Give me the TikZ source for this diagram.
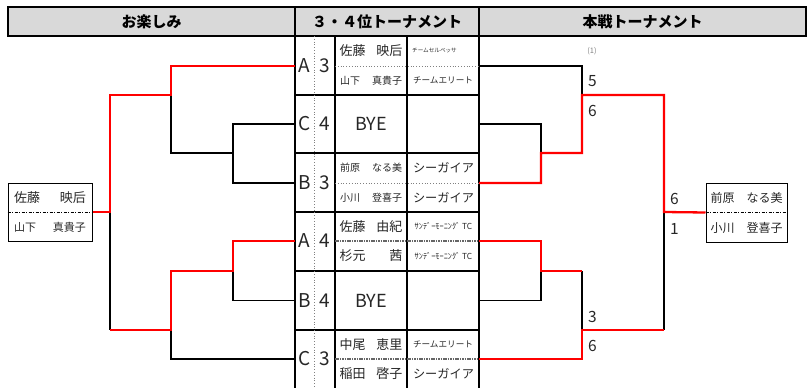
\documentclass[tikz,border=0pt]{standalone}
\usepackage{fontspec}
\setmainfont{Noto Sans CJK JP}
\definecolor{hgray}{HTML}{D9D9D9}
\definecolor{txt}{HTML}{262626}
\newcommand{\fs}[1]{\fontsize{#1}{#1}\selectfont}
\newcommand{\jname}[3]{\hbox to #1pt{#2\hfill #3}}
\begin{document}
\begin{tikzpicture}[x=1pt,y=-1pt,
  hdr/.style={draw, line width=1.3pt, fill=hgray, inner sep=0pt, font=\fs{15}\bfseries},
  tab/.style={draw, line width=1.2pt},
  fine/.style={draw=gray, line width=0.8pt, dotted},
  thickdash/.style={draw=black!60, line width=2pt, dash pattern=on 1.6pt off 0.8pt},
  lose/.style={draw=black, line width=1.1pt},
  win/.style={draw=red, line width=2.3pt},
  lbl/.style={inner sep=0pt, text=txt},
  big/.style={lbl, font=\fs{19}},
  bye/.style={lbl, font=\fs{18}},
  score/.style={lbl, font=\fs{15.5}},
  cellbox/.style={draw, line width=1pt, inner sep=0pt}
]
\useasboundingbox (0,0) rectangle (807,388);

% headers
\node[hdr, minimum width=287pt, minimum height=29pt] (h1) at (151.5,21.5) {お楽しみ};
\node[hdr, minimum width=184pt, minimum height=29pt] (h2) at (387,21.5) {３・４位トーナメント};
\node[hdr, minimum width=327pt, minimum height=29pt] (h3) at (642.5,21.5) {本戦トーナメント};

% middle table
\foreach \x in {295,335,407,479} \draw[tab] (\x,36) -- (\x,388);
\foreach \y in {95,153,212,271,330} \draw[tab] (295,\y) -- (479,\y);
\draw[fine] (314,36) -- (314,388);
\foreach \y in {66,183} \draw[fine] (335,\y) -- (479,\y);
\foreach \y in {241,359} \draw[thickdash] (335,\y) -- (479,\y);

% group letters and numbers
\node[big] (gA1) at (304.5,66) {A};   \node[big] (nA1) at (324.5,66) {3};
\node[big] (gC1) at (304.5,124) {C};  \node[big] (nC1) at (324.5,124) {4};
\node[big] (gB1) at (304.5,183) {B};  \node[big] (nB1) at (324.5,183) {3};
\node[big] (gA2) at (304.5,241) {A};  \node[big] (nA2) at (324.5,241) {4};
\node[big] (gB2) at (304.5,300.5) {B};\node[big] (nB2) at (324.5,300.5) {4};
\node[big] (gC2) at (304.5,359) {C};  \node[big] (nC2) at (324.5,359) {3};
\node[bye] (bye1) at (371,124) {BYE};
\node[bye] (bye2) at (371,300.5) {BYE};

% names
\node[lbl, font=\fs{13}] (p1) at (371,51)    {\jname{63}{佐藤}{映后}};
\node[lbl, font=\fs{10}] (p2) at (371,80.5)  {\jname{62}{山下}{真貴子}};
\node[lbl, font=\fs{10}] (p3) at (371,168)   {\jname{62}{前原}{なる美}};
\node[lbl, font=\fs{10}] (p4) at (371,197.5) {\jname{62}{小川}{登喜子}};
\node[lbl, font=\fs{13}] (p5) at (371,226.5) {\jname{63}{佐藤}{由紀}};
\node[lbl, font=\fs{13}] (p6) at (371,256)   {\jname{63}{杉元}{茜}};
\node[lbl, font=\fs{13}] (p7) at (371,344.5) {\jname{63}{中尾}{恵里}};
\node[lbl, font=\fs{13}] (p8) at (371,373.5) {\jname{63}{稲田}{啓子}};

% teams
\node[lbl, font=\fs{5.6}] (t1) at (434.5,51)  {チームセルベッサ};
\node[lbl, font=\fs{8.6}] (t2) at (443,80.5)  {チームエリート};
\node[lbl, font=\fs{12.2}] (t3) at (443.5,168) {シーガイア};
\node[lbl, font=\fs{12.2}] (t4) at (443.5,197.5) {シーガイア};
\node[lbl, font=\fs{8.3}] (t5) at (443.5,226.5) {ｻﾝﾃﾞｰﾓｰﾆﾝｸﾞ TC};
\node[lbl, font=\fs{8.3}] (t6) at (443.5,256) {ｻﾝﾃﾞｰﾓｰﾆﾝｸﾞ TC};
\node[lbl, font=\fs{8.6}] (t7) at (443,344.5) {チームエリート};
\node[lbl, font=\fs{12.2}] (t8) at (443.5,373.5) {シーガイア};

% winner boxes
\node[cellbox, minimum width=84pt, minimum height=58pt] (lbox) at (50,212) {};
\draw[line width=0.8pt, dash pattern=on 3pt off 1.5pt on 1pt off 1.5pt] (lbox.west) -- (lbox.east);
\node[lbl, font=\fs{13}] (lw1) at (50,198) {\jname{72}{佐藤}{映后}};
\node[lbl, font=\fs{11}] (lw2) at (50,227) {\jname{72}{山下}{真貴子}};

\node[cellbox, minimum width=81pt, minimum height=59pt] (rbox) at (746.5,212.5) {};
\draw[line width=0.8pt, dash pattern=on 3pt off 1.5pt on 1pt off 1.5pt] (rbox.west) -- (rbox.east);
\node[lbl, font=\fs{12}] (rw1) at (746.5,198) {\jname{72}{前原}{なる美}};
\node[lbl, font=\fs{12}] (rw2) at (746.5,227.5) {\jname{72}{小川}{登喜子}};

% anchors on table edges
\foreach \n/\y in {A1/66,C1/124,B1/183,A2/241,B2/300.5,C2/359} {
  \coordinate (L\n) at (295,\y);
  \coordinate (R\n) at (479,\y);
}

% left bracket
\draw[lose] (LC1) -- (233,124) -- (233,183) -- (LB1);
\draw[lose] (233,153) -- (171,153) -- (171,95);
\draw[lose] (LB2) -- (233,300.5) -- (233,241);
\draw[lose] (LC2) -- (171,359) -- (171,330);
\draw[lose] (110,212) -- (110,330);
\draw[win] (LA1) -- (171,66) -- (171,95) -- (110,95) -- (110,212) -- (lbox.east);
\draw[win] (LA2) -- (233,241) -- (233,271) -- (171,271) -- (171,330) -- (110,330);

% right bracket
\draw[lose] (RA1) -- (582,66) -- (582,95);
\draw[lose] (RC1) -- (541,124) -- (541,153);
\draw[lose] (RB2) -- (541,300.5) -- (541,271);
\draw[lose] (582,271) -- (582,330);
\draw[lose] (664,212) -- (664,330);
\draw[win] (RB1) -- (541,183) -- (541,153) -- (582,153) -- (582,95) -- (664,95) -- (664,212) -- (rbox.west);
\draw[win] (RA2) -- (541,241) -- (541,271) -- (582,271);
\draw[win] (RC2) -- (582,359) -- (582,330) -- (664,330);

% scores
\node[lbl, font=\fs{7.5}, text=gray] (s0) at (592,51) {(1)};
\node[score] (s1) at (592.5,81) {5};
\node[score] (s2) at (592.5,111) {6};
\node[score] (s3) at (674.5,199) {6};
\node[score] (s4) at (674.5,229) {1};
\node[score] (s5) at (592.5,316.5) {3};
\node[score] (s6) at (592.5,345.5) {6};
\end{tikzpicture}
\end{document}
